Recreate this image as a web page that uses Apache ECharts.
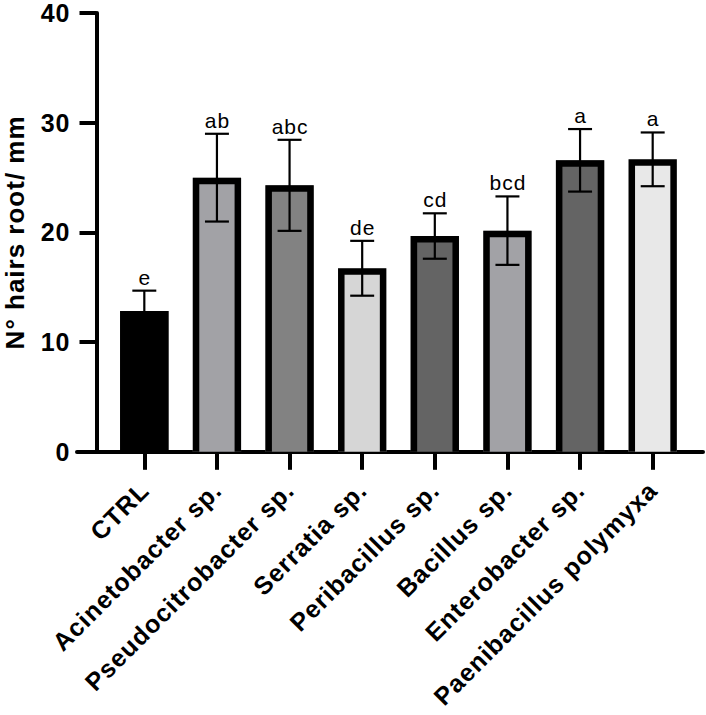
<!DOCTYPE html>
<html>
<head>
<meta charset="utf-8">
<script src="https://cdn.jsdelivr.net/npm/echarts@6/dist/echarts.min.js"></script>
<style>
html,body{margin:0;padding:0;background:#fff;}
#chart{width:706px;height:715px;}
#chart text{letter-spacing:1px;}
</style>
</head>
<body>
<div id="chart"></div>
<script>
const categories = ['CTRL','Acinetobacter sp.','Pseudocitrobacter sp.','Serratia sp.','Peribacillus sp.','Bacillus sp.','Enterobacter sp.','Paenibacillus polymyxa'];
const means = [12.83, 24.99, 24.29, 16.73, 19.67, 20.16, 26.57, 26.66];
const sds = [1.86, 4.0, 4.15, 2.5, 2.07, 3.12, 2.85, 2.45];
const letters = ['e','ab','abc','de','cd','bcd','a','a'];
const fills = ['#000000','#a2a2a6','#828282','#d6d6d6','#646464','#a2a2a6','#646464','#e8e8e8'];
const yTicks = [0, 10, 20, 30, 40];

const FONT = "'Liberation Sans', Arial, sans-serif";
const BW = 6.5;

const chart = echarts.init(document.getElementById('chart'), null, {renderer: 'svg'});

const barData = categories.map((c, i) => [i, means[i], sds[i]]);

function renderBar(params, api) {
  const i = api.value(0);
  const top = api.coord([i, api.value(1)]);
  const base = api.coord([i, 0]);
  const band = api.size([1, 0])[0];
  const W = band * 0.665;
  const xl = top[0] - W / 2, xr = top[0] + W / 2;
  const fill = fills[i];
  return {
    type: 'group',
    children: [
      {type: 'rect', shape: {x: xl, y: top[1], width: W, height: base[1] - top[1]}, style: {fill: fill}},
      {type: 'polyline', shape: {points: [[xl + BW/2, base[1]], [xl + BW/2, top[1] + BW/2], [xr - BW/2, top[1] + BW/2], [xr - BW/2, base[1]]]},
       style: {fill: null, stroke: '#000', lineWidth: BW, lineJoin: 'miter'}}
    ]
  };
}

function renderErr(params, api) {
  const i = api.value(0);
  const m = api.value(1), s = api.value(2);
  const hi = api.coord([i, m + s]);
  const lo = api.coord([i, m - s]);
  const band = api.size([1, 0])[0];
  const cw = band * 0.33;
  const x = hi[0];
  return {
    type: 'group',
    children: [
      {type: 'line', shape: {x1: x, y1: hi[1], x2: x, y2: lo[1]}, style: {stroke: '#000', lineWidth: 2.2}},
      {type: 'line', shape: {x1: x - cw/2, y1: hi[1], x2: x + cw/2, y2: hi[1]}, style: {stroke: '#000', lineWidth: 2.2}},
      {type: 'line', shape: {x1: x - cw/2, y1: lo[1], x2: x + cw/2, y2: lo[1]}, style: {stroke: '#000', lineWidth: 2.2}},
      {type: 'text', style: {text: letters[i], x: x + 0.5, y: hi[1] - 3, align: 'center', verticalAlign: 'bottom', fill: '#000', font: '21px ' + FONT}}
    ]
  };
}

const option = {
  backgroundColor: '#fff',
  animation: false,
  grid: [
    {left: 108, right: 17, top: 13, bottom: 263.2, containLabel: false, outerBoundsMode: 'none'},
    {left: 77, right: 3, top: 13, bottom: 263.2, containLabel: false, outerBoundsMode: 'none'}
  ],
  xAxis: [
    {
      type: 'category', gridIndex: 0, data: categories,
      axisLine: {show: false},
      axisTick: {show: true, alignWithLabel: true, length: 18, lineStyle: {color: '#000', width: 4}},
      axisLabel: {interval: 0, rotate: 45, margin: 34, color: '#000', fontSize: 25, fontWeight: 'bold', fontFamily: FONT},
      splitLine: {show: false}
    },
    {
      type: 'value', gridIndex: 1, min: 0, max: 1,
      axisLine: {show: true, onZero: false, lineStyle: {color: '#000', width: 4}},
      axisTick: {show: false}, axisLabel: {show: false}, splitLine: {show: false}
    }
  ],
  yAxis: [
    {
      type: 'value', gridIndex: 0, min: yTicks[0], max: yTicks[yTicks.length - 1], interval: 10,
      offset: 11.5,
      name: 'N° hairs root/ mm', nameLocation: 'middle', nameRotate: 90, nameGap: 69,
      nameTextStyle: {color: '#000', fontSize: 26, fontWeight: 'bold', fontFamily: FONT},
      axisLine: {show: true, lineStyle: {color: '#000', width: 4}},
      axisTick: {show: true, length: 17, lineStyle: {color: '#000', width: 4}},
      axisLabel: {margin: 26, color: '#000', fontSize: 25, fontWeight: 'bold', fontFamily: FONT},
      splitLine: {show: false}
    },
    {
      type: 'value', gridIndex: 1, min: 0, max: 1, show: false
    }
  ],
  series: [
    {type: 'custom', xAxisIndex: 0, yAxisIndex: 0, renderItem: renderBar, data: barData, z: 2},
    {type: 'custom', xAxisIndex: 0, yAxisIndex: 0, renderItem: renderErr, data: barData, z: 3}
  ]
};
chart.setOption(option);
</script>
</body>
</html>
